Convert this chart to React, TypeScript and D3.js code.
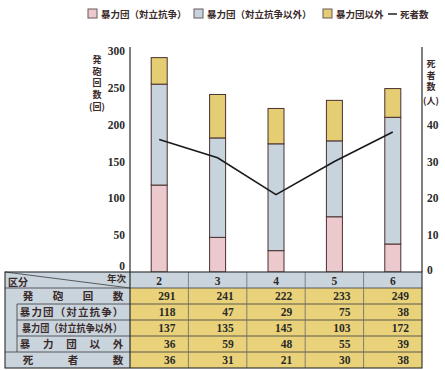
import React from 'react';
import * as d3 from 'd3';

const years = ['2', '3', '4', '5', '6'];
const total = [291, 241, 222, 233, 249];
const conflict = [118, 47, 29, 75, 38];
const nonConflict = [137, 135, 145, 103, 172];
const nonGang = [36, 59, 48, 55, 39];
const deaths = [36, 31, 21, 30, 38];
const leftTicks = [0, 50, 100, 150, 200, 250, 300];
const rightTicks = [0, 10, 20, 30, 40];

const seriesNames = ['暴力団（対立抗争）', '暴力団（対立抗争以外）', '暴力団以外'];
const colors = ['#ecc9cd', '#c7d3dd', '#e4cd72'];
const rowLabels = [
  { text: '発砲回数', spread: true, indent: false },
  { text: '暴力団（対立抗争）', spread: true, indent: true },
  { text: '暴力団（対立抗争以外）', spread: false, indent: true },
  { text: '暴力団以外', spread: true, indent: true },
  { text: '死者数', spread: true, indent: false },
];

const W = 445, H = 370;
const plotLeft = 130, plotRight = 422;
const base = 272;

const App = () => {
  const x = d3.scaleBand<string>().domain(years).range([plotLeft, plotRight]);
  const y = d3.scaleLinear().domain([0, 300]).range([base, 51]);
  const y2 = d3.scaleLinear().domain([0, 60]).range([base, 51]);
  const barW = 16;

  const stackData = years.map((yr, i) => ({ yr, a: conflict[i], b: nonConflict[i], c: nonGang[i] }));
  const stacks = d3.stack<any>().keys(['a', 'b', 'c'])(stackData);

  const line = d3.line<number>()
    .x((d, i) => (x(years[i]) as number) + x.bandwidth() / 2)
    .y(d => y2(d));

  const tableRows = [total, conflict, nonConflict, nonGang, deaths];
  const rowH = 16;
  const tTop = 272;
  const tLeft = 5;

  const serif = '"Liberation Serif", "DejaVu Serif", serif';
  const cjk = '"Noto Sans CJK JP", sans-serif';
  const ink = '#3a2a2a';

  const spreadText = (t: string, x0: number, x1: number, yy: number, key: string) => {
    const chars = Array.from(t);
    const step = (x1 - x0) / (chars.length - 1);
    return chars.map((ch, i) => (
      <text key={key + i} x={x0 + i * step} y={yy} textAnchor="middle" fontSize={10.5}
        fontFamily={cjk} fontWeight={700} fill={ink}>{ch}</text>
    ));
  };

  const legendX = [88, 194, 323];

  return (
    <svg width={W} height={H} style={{ position: 'absolute', left: 0, top: 0 }}>
      <rect width={W} height={H} fill="#fff" />

      {/* legend */}
      {seriesNames.map((n, i) => (
        <g key={n}>
          <rect x={legendX[i]} y={9} width={9} height={9} fill={colors[i]} stroke="#6a5a5a" strokeWidth={1} />
          <text x={legendX[i] + 13} y={17.5} fontSize={9.5} fontFamily={cjk} fontWeight={700} fill={ink}>{n}</text>
        </g>
      ))}
      <line x1={388} x2={397} y1={14} y2={14} stroke="#222" strokeWidth={1.5} />
      <text x={400} y={17.5} fontSize={9.5} fontFamily={cjk} fontWeight={700} fill={ink}>死者数</text>

      {/* bars */}
      {stacks.map((s, si) => s.map((d, i) => (
        <rect key={si + '-' + i}
          x={(x(years[i]) as number) + x.bandwidth() / 2 - barW / 2}
          y={y(d[1])} width={barW} height={y(d[0]) - y(d[1])}
          fill={colors[si]} stroke="#4a3030" strokeWidth={1} />
      )))}

      {/* death line */}
      <path d={line(deaths) || ''} fill="none" stroke="#1a1a1a" strokeWidth={1.6} />

      {/* axes */}
      <line x1={plotLeft} x2={plotLeft} y1={47} y2={base} stroke="#2a2a2a" strokeWidth={1.2} />
      <line x1={plotRight} x2={plotRight} y1={47} y2={base} stroke="#2a2a2a" strokeWidth={1.2} />
      {leftTicks.map(t => (
        <text key={'l' + t} x={125} y={y(t) + (t === 0 ? -2 : 4)} textAnchor="end" fontSize={11.5}
          fontFamily={serif} fontWeight={700} fill="#2a2a2a">{t}</text>
      ))}
      {rightTicks.map(t => (
        <text key={'r' + t} x={427} y={y2(t) + (t === 0 ? 2 : 4)} fontSize={11.5}
          fontFamily={serif} fontWeight={700} fill="#2a2a2a">{t}</text>
      ))}
      {Array.from('発砲回数').map((ch, i) => (
        <text key={'la' + i} x={97} y={63 + i * 11.5} textAnchor="middle" fontSize={9}
          fontFamily={cjk} fontWeight={700} fill={ink}>{ch}</text>
      ))}
      <text x={97} y={110} textAnchor="middle" fontSize={9} fontFamily={cjk} fontWeight={700} fill={ink}>(回)</text>
      {Array.from('死者数').map((ch, i) => (
        <text key={'ra' + i} x={431} y={67 + i * 11.5} textAnchor="middle" fontSize={9}
          fontFamily={cjk} fontWeight={700} fill={ink}>{ch}</text>
      ))}
      <text x={431} y={104} textAnchor="middle" fontSize={9} fontFamily={cjk} fontWeight={700} fill={ink}>(人)</text>

      {/* table */}
      <rect x={tLeft} y={tTop} width={plotLeft - tLeft} height={rowH * 6} fill="#c9d4dd" />
      <rect x={plotLeft} y={tTop} width={plotRight - plotLeft} height={rowH} fill="#c9d4dd" />
      <rect x={plotLeft} y={tTop + rowH} width={plotRight - plotLeft} height={rowH * 5} fill="#e9d279" />
      <line x1={tLeft} y1={tTop} x2={plotLeft} y2={tTop + rowH} stroke="#3a3a3a" strokeWidth={0.8} />
      <text x={tLeft + 3} y={tTop + 13.5} fontSize={10} fontFamily={cjk} fontWeight={700} fill={ink}>区分</text>
      <text x={plotLeft - 4} y={tTop + 9.5} textAnchor="end" fontSize={9.5} fontFamily={cjk} fontWeight={700} fill={ink}>年次</text>
      {years.map(yr => (
        <text key={'h' + yr} x={(x(yr) as number) + x.bandwidth() / 2} y={tTop + 12.5} textAnchor="middle"
          fontSize={11.5} fontFamily={serif} fontWeight={700} fill="#2a2a2a">{yr}</text>
      ))}
      {d3.range(1, 6).map(r => {
        const yy = tTop + r * rowH;
        const inner = r >= 2 && r <= 4;
        return <line key={'hr' + r} x1={inner ? 17 : tLeft} x2={plotRight} y1={yy} y2={yy} stroke="#4a4a4a" strokeWidth={0.9} />;
      })}
      <line x1={17} x2={17} y1={tTop + rowH * 2} y2={tTop + rowH * 5} stroke="#4a4a4a" strokeWidth={0.9} />
      {years.map((yr, i) => i > 0 && (
        <line key={'vc' + yr} x1={x(yr) as number} x2={x(yr) as number} y1={tTop} y2={tTop + rowH * 6} stroke="#6a6a6a" strokeWidth={0.8} />
      ))}
      <line x1={plotLeft} x2={plotLeft} y1={tTop} y2={tTop + rowH * 6} stroke="#2a2a2a" strokeWidth={1.2} />
      <rect x={tLeft} y={tTop} width={plotRight - tLeft} height={rowH * 6} fill="none" stroke="#2a2a2a" strokeWidth={1.1} />
      {rowLabels.map((r, ri) => {
        const yy = tTop + (ri + 1) * rowH + 12;
        if (r.spread) {
          const x0 = r.indent ? 25 : 28;
          return <g key={'rl' + ri}>{spreadText(r.text, x0, 118, yy, 'rl' + ri)}</g>;
        }
        return <text key={'rl' + ri} x={22} y={yy} textLength={100} lengthAdjust="spacingAndGlyphs" fontSize={10.5}
          fontFamily={cjk} fontWeight={700} fill={ink}>{r.text}</text>;
      })}
      {tableRows.map((row, ri) => row.map((v, ci) => (
        <text key={'v' + ri + '-' + ci} x={(x(years[ci]) as number) + x.bandwidth() - 13}
          y={tTop + (ri + 1) * rowH + 12} textAnchor="end" fontSize={11.5}
          fontFamily={serif} fontWeight={700} fill="#2a2a2a">{v}</text>
      )))}
    </svg>
  );
};

export default App;
